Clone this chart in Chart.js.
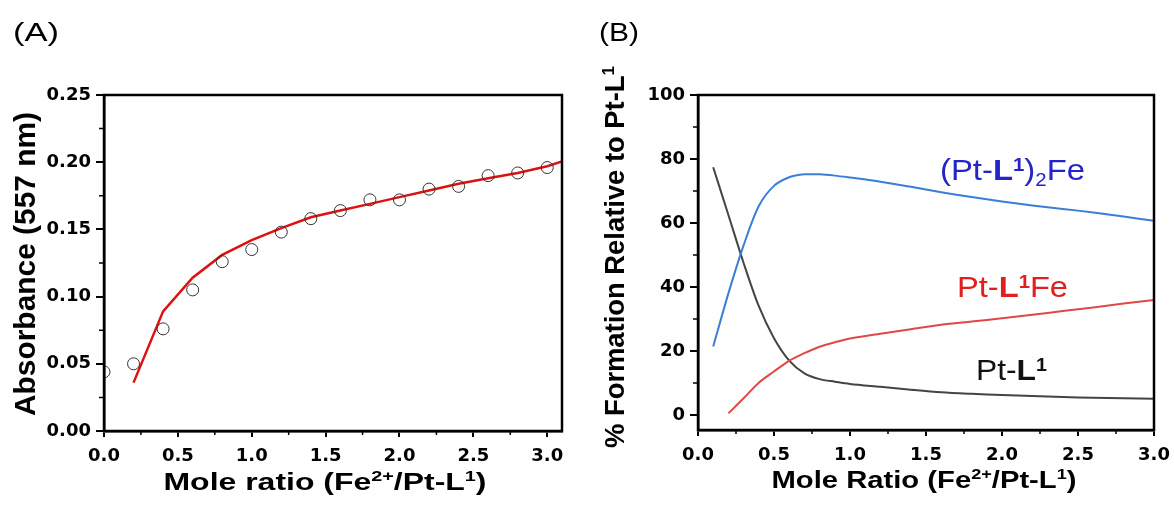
<!DOCTYPE html>
<html>
<head>
<meta charset="utf-8">
<script src="https://cdn.jsdelivr.net/npm/chart.js@4.4.1/dist/chart.umd.min.js"></script>
<style>
  body { margin: 0; background: #fff; width: 1174px; height: 509px; overflow: hidden; position: relative; }
  .panel { position: absolute; top: 0; height: 509px; }
  #wrapA { left: 0; width: 590px; }
  #wrapB { left: 590px; width: 584px; }
</style>
</head>
<body>
<div class="panel" id="wrapA"><canvas id="chartA" width="590" height="509"></canvas></div>
<div class="panel" id="wrapB"><canvas id="chartB" width="584" height="509"></canvas></div>
<script>
// (A) absorbance at 557 nm vs mole ratio
const ratioA = [0, 0.2, 0.4, 0.6, 0.8, 1.0, 1.2, 1.4, 1.6, 1.8, 2.0, 2.2, 2.4, 2.6, 2.8, 3.0];
const absorbance = [0.044, 0.050, 0.076, 0.105, 0.126, 0.135, 0.148, 0.158, 0.164, 0.172, 0.172, 0.180, 0.182, 0.190, 0.192, 0.196];
const fitRatio = [0.2, 0.4, 0.6, 0.8, 1.0, 1.2, 1.4, 1.6, 1.8, 2.0, 2.2, 2.4, 2.6, 2.8, 3.0, 3.1];
const fitAbs = [0.036, 0.089, 0.114, 0.131, 0.142, 0.151, 0.159, 0.164, 0.169, 0.174, 0.179, 0.184, 0.188, 0.192, 0.197, 0.2005];
const xTicksA = [0, 0.5, 1.0, 1.5, 2.0, 2.5, 3.0];
const yTicksA = [0, 0.05, 0.10, 0.15, 0.20, 0.25];

// (B) species distribution
const ratioB = [0.1, 0.2, 0.3, 0.4, 0.5, 0.6, 0.7, 0.8, 0.9, 1.0, 1.2, 1.4, 1.6, 1.8, 2.0, 2.2, 2.4, 2.6, 2.8, 3.0];
const ptL2Fe = [21.4, 38, 53, 65.3, 71.6, 74.3, 75.2, 75.2, 74.8, 74.2, 72.9, 71.3, 69.6, 68.1, 66.7, 65.5, 64.4, 63.3, 62.0, 60.7];
const ptLFe = [null, 0.5, 5.2, 10.1, 13.6, 16.9, 19.3, 21.3, 22.7, 23.9, 25.4, 26.8, 28.2, 29.2, 30.2, 31.3, 32.5, 33.6, 34.8, 35.9];
const ptL = [77.4, 62.5, 47.5, 34, 24, 17, 13, 11.2, 10.4, 9.7, 8.8, 7.9, 7.1, 6.6, 6.2, 5.9, 5.6, 5.4, 5.2, 5.1];
const xTicksB = [0, 0.5, 1.0, 1.5, 2.0, 2.5, 3.0];
const yTicksB = [0, 20, 40, 60, 80, 100];

const pts = (xs, ys) => xs.map((x, i) => ({ x: x, y: ys[i] }));

// draw text made of runs (bold / superscript / subscript), stretched to a width
function drawRich(ctx, item) {
  const fam = item.family || '"Liberation Sans", Arial, sans-serif';
  const size = item.size;
  const fontOf = s => ((s.b || item.bold) ? 'bold ' : '') + ((s.sup || s.sub) ? size * 0.62 : size) + 'px ' + fam;
  let total = 0;
  const widths = item.segs.map(s => { ctx.font = fontOf(s); const w = ctx.measureText(s.t).width; total += w; return w; });
  const sx = item.w ? item.w / total : 1;
  ctx.save();
  ctx.translate(item.x, item.y);
  if (item.px) ctx.scale(item.px, 1);   // page-horizontal stretch
  if (item.rot) ctx.rotate(item.rot);
  ctx.scale(sx, 1);
  ctx.fillStyle = item.color || '#000';
  ctx.textBaseline = 'alphabetic';
  ctx.textAlign = 'left';
  let cx = item.center ? -total / 2 : 0;
  item.segs.forEach((s, i) => {
    ctx.font = fontOf(s);
    const dy = s.sup ? -size * (item.raise || 0.36) : (s.sub ? size * 0.2 : 0);
    ctx.fillText(s.t, cx, dy);
    cx += widths[i];
  });
  ctx.restore();
}

const richText = {
  id: 'richText',
  afterDraw(chart, args, opts) {
    (opts.items || []).forEach(it => drawRich(chart.ctx, it));
  }
};

// box frame plus short outward minor ticks
const frame = {
  id: 'frame',
  afterDraw(chart) {
    const { ctx, chartArea: a, scales } = chart;
    const x = scales.x, y = scales.y;
    ctx.save();
    ctx.strokeStyle = '#000';
    ctx.lineWidth = 2.5;
    ctx.strokeRect(a.left, a.top, a.right - a.left, a.bottom - a.top);
    ctx.lineWidth = 1.5;
    ctx.beginPath();
    const xt = x.ticks.map(t => t.value);
    for (let i = 0; i < xt.length - 1; i++) {
      const px = x.getPixelForValue((xt[i] + xt[i + 1]) / 2);
      ctx.moveTo(px, a.bottom); ctx.lineTo(px, a.bottom + 4);
    }
    const yt = y.ticks.map(t => t.value);
    for (let i = 0; i < yt.length - 1; i++) {
      const py = y.getPixelForValue((yt[i] + yt[i + 1]) / 2);
      ctx.moveTo(a.left, py); ctx.lineTo(a.left - 5, py);
    }
    ctx.stroke();
    ctx.restore();
  }
};

const tickFont = { family: '"DejaVu Sans", sans-serif', weight: 'bold', size: 18 };

function axes(xr, yr, xTicks, yTicks, xDigits, yDigits, yWidth, xHeight) {
  return {
    x: {
      type: 'linear', min: xr[0], max: xr[1],
      afterBuildTicks: s => { s.ticks = xTicks.map(v => ({ value: v })); },
      afterFit: s => { s.height = xHeight; s.paddingLeft = 0; s.paddingRight = 0; },
      border: { display: true, color: '#000', width: 2.5 },
      grid: { drawOnChartArea: false, drawTicks: true, tickLength: 6, color: '#000', lineWidth: 2 },
      ticks: { color: '#000', font: tickFont, padding: 9, maxRotation: 0, callback: v => v.toFixed(xDigits) }
    },
    y: {
      type: 'linear', min: yr[0], max: yr[1],
      afterBuildTicks: s => { s.ticks = yTicks.map(v => ({ value: v })); },
      afterFit: s => { s.width = yWidth; s.paddingTop = 0; s.paddingBottom = 0; },
      border: { display: true, color: '#000', width: 2.5 },
      grid: { drawOnChartArea: false, drawTicks: true, tickLength: 8, color: '#000', lineWidth: 2 },
      ticks: { color: '#000', font: tickFont, padding: 5, callback: v => v.toFixed(yDigits) }
    }
  };
}

// Panel A
new Chart(document.getElementById('chartA'), {
  type: 'scatter',
  data: {
    datasets: [
      { data: pts(ratioA, absorbance), pointStyle: 'circle', pointRadius: 6, borderWidth: 1,
        borderColor: '#333', backgroundColor: 'rgba(0,0,0,0)', clip: 0 },
      { data: pts(fitRatio, fitAbs), showLine: true, pointRadius: 0, borderColor: '#dd1111',
        borderWidth: 2.5, tension: 0, clip: 0 }
    ]
  },
  options: {
    responsive: false, animation: false,
    layout: { padding: { top: 95, right: 28, left: 0, bottom: 0 } },
    scales: axes([0, 3.1], [0, 0.25], xTicksA, yTicksA, 1, 2, 104, 78),
    plugins: {
      legend: { display: false }, tooltip: { enabled: false },
      richText: { items: [
        { segs: [{ t: '(A)' }], x: 13, y: 41, size: 26, w: 46 },
        { segs: [{ t: 'Mole ratio (Fe' }, { t: '2+', sup: 1 }, { t: '/Pt-L' }, { t: '1', sup: 1 }, { t: ')' }],
          bold: true, x: 325, y: 490, size: 24, w: 323, center: true },
        { segs: [{ t: 'Absorbance (557 nm)' }], bold: true, x: 35, y: 264, size: 24, px: 1.2, w: 304,
          center: true, rot: -Math.PI / 2 }
      ] }
    }
  },
  plugins: [frame, richText]
});

// Panel B
new Chart(document.getElementById('chartB'), {
  type: 'scatter',
  data: {
    datasets: [
      { label: '(Pt-L1)2Fe', data: pts(ratioB, ptL2Fe), showLine: true, pointRadius: 0,
        borderColor: '#3a7fd5', borderWidth: 2, tension: 0.3 },
      { label: 'Pt-L1Fe', data: pts(ratioB, ptLFe), showLine: true, pointRadius: 0,
        borderColor: '#e04848', borderWidth: 2, tension: 0.3 },
      { label: 'Pt-L1', data: pts(ratioB, ptL), showLine: true, pointRadius: 0,
        borderColor: '#444', borderWidth: 2, tension: 0.3 }
    ]
  },
  options: {
    responsive: false, animation: false,
    layout: { padding: { top: 95, right: 20, left: 0, bottom: 0 } },
    scales: axes([0, 3.0], [-4.7, 100], xTicksB, yTicksB, 1, 0, 108, 79),
    plugins: {
      legend: { display: false }, tooltip: { enabled: false },
      richText: { items: [
        { segs: [{ t: '(B)' }], x: 9, y: 41, size: 26, w: 40 },
        { segs: [{ t: 'Mole Ratio (Fe' }, { t: '2+', sup: 1 }, { t: '/Pt-L' }, { t: '1', sup: 1 }, { t: ')' }],
          bold: true, x: 334, y: 488, size: 24, w: 305, center: true },
        { segs: [{ t: '% Formation Relative to Pt-L' }, { t: '1', sup: 1 }], bold: true, x: 34, y: 257,
          size: 24, px: 1.15, w: 382, center: true, rot: -Math.PI / 2 },
        { segs: [{ t: '(Pt-' }, { t: 'L', b: 1 }, { t: '1', b: 1, sup: 1 }, { t: ')' }, { t: '2', sub: 1 }, { t: 'Fe' }],
          color: '#2424c8', x: 350, y: 180, size: 29, w: 145, raise: 0.3 },
        { segs: [{ t: 'Pt-' }, { t: 'L', b: 1 }, { t: '1', b: 1, sup: 1 }, { t: 'Fe' }],
          color: '#e02020', x: 367, y: 297, size: 29, w: 111, raise: 0.3 },
        { segs: [{ t: 'Pt-' }, { t: 'L', b: 1 }, { t: '1', b: 1, sup: 1 }],
          color: '#111', x: 386, y: 380, size: 29, w: 71, raise: 0.3 }
      ] }
    }
  },
  plugins: [frame, richText]
});
</script>
</body>
</html>
